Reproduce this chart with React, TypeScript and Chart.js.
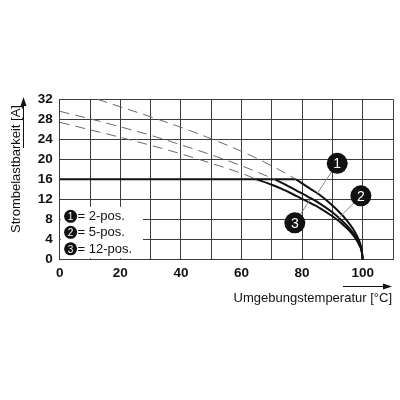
import { useEffect, useRef } from "react";
import { Chart, registerables } from "chart.js";

Chart.register(...registerables);

const FONT = "'Liberation Sans', Arial, Helvetica, sans-serif";
Chart.defaults.font.family = FONT;

// tick labels
const xTickLabels = [0, 20, 40, 60, 80, 100];
const yTickLabels = [0, 4, 8, 12, 16, 20, 24, 28, 32];

// flat 16 A limit (shared by all three variants)
const flatX = [0, 78];
const flatY = [16, 16];

// derating curves (solid part below 16 A)
const curve1X = [78, 80, 83, 86, 89, 92, 95, 97, 98.5, 99.5, 100];
const curve1Y = [16, 15.2, 14.0, 12.8, 11.3, 9.6, 7.6, 5.9, 4.2, 2.4, 0];
const curve2X = [71, 74, 78, 82, 86, 90, 93, 95.5, 97.5, 99, 99.7, 100];
const curve2Y = [16, 15.1, 13.8, 12.5, 11.1, 9.4, 7.8, 6.3, 4.7, 3.0, 1.6, 0];
const curve3X = [65, 70, 74, 78, 82, 86, 90, 93, 95.5, 97.5, 99, 99.7, 100];
const curve3Y = [16, 14.9, 13.9, 12.7, 11.5, 10.2, 8.6, 7.2, 5.8, 4.3, 2.7, 1.5, 0];

// dashed continuation above 16 A
const dash1X = [12.5, 20, 30, 40, 50, 60, 70, 78];
const dash1Y = [32, 30.5, 28.5, 26.4, 24.1, 21.6, 18.7, 16];
const dash2X = [0, 10, 20, 30, 40, 50, 60, 71];
const dash2Y = [29.6, 28.1, 26.5, 24.8, 22.9, 20.9, 18.7, 16];
const dash3X = [0, 10, 20, 30, 40, 50, 60, 65];
const dash3Y = [27.4, 25.9, 24.4, 22.8, 21.1, 19.2, 17.2, 16];

// numbered callouts and where their leaders touch the curves
const calloutLabels = ["1", "2", "3"];
const calloutX = [91.6, 99.4, 77.6];
const calloutY = [19.2, 12.7, 7.3];
const leaderX = [84.8, 92, 82.6];
const leaderY = [13.0, 8.2, 11.9];

// key in lower left
const legendLabels = ["2-pos.", "5-pos.", "12-pos."];
const legendRowY = [8.6, 5.4, 2.1];
const legendBoxX = [0, 27.5];
const legendBoxY = [0, 10.5];

const yTitle = "Strombelastbarkeit [A]";
const xTitle = "Umgebungstemperatur [°C]";

const zip = (xs: number[], ys: number[]) => xs.map((x, i) => ({ x, y: ys[i] }));

const solid = (xs: number[], ys: number[]) => ({
  data: zip(xs, ys),
  borderColor: "#111",
  borderWidth: 2,
  pointRadius: 0,
  cubicInterpolationMode: "monotone" as const,
});

const dashed = (xs: number[], ys: number[]) => ({
  data: zip(xs, ys),
  borderColor: "#6a6a6a",
  borderWidth: 1,
  borderDash: [10, 6],
  pointRadius: 0,
  cubicInterpolationMode: "monotone" as const,
});

const bullet = (ctx: CanvasRenderingContext2D, cx: number, cy: number, r: number, label: string, size: number) => {
  ctx.beginPath();
  ctx.arc(cx, cy, r, 0, Math.PI * 2);
  ctx.fillStyle = "#111";
  ctx.fill();
  ctx.fillStyle = "#fff";
  ctx.font = `${size}px ${FONT}`;
  ctx.textAlign = "center";
  ctx.textBaseline = "middle";
  ctx.fillText(label, cx, cy + 1);
};

const overlay = {
  id: "overlay",
  beforeDatasetsDraw(chart: any) {
    const { ctx, scales } = chart;
    const { x, y } = scales;
    const l = x.getPixelForValue(legendBoxX[0]) + 1;
    const r = x.getPixelForValue(legendBoxX[1]);
    const t = y.getPixelForValue(legendBoxY[1]);
    const b = y.getPixelForValue(legendBoxY[0]) - 1;
    ctx.save();
    ctx.fillStyle = "#fff";
    ctx.fillRect(l, t, r - l, b - t);
    ctx.restore();
  },
  afterDatasetsDraw(chart: any) {
    const { ctx, scales } = chart;
    const { x, y } = scales;
    ctx.save();

    // leaders
    ctx.strokeStyle = "#888";
    ctx.lineWidth = 1;
    calloutLabels.forEach((_, i) => {
      ctx.beginPath();
      ctx.moveTo(x.getPixelForValue(calloutX[i]), y.getPixelForValue(calloutY[i]));
      ctx.lineTo(x.getPixelForValue(leaderX[i]), y.getPixelForValue(leaderY[i]));
      ctx.stroke();
    });
    calloutLabels.forEach((lab, i) => {
      bullet(ctx, x.getPixelForValue(calloutX[i]), y.getPixelForValue(calloutY[i]), 10.5, lab, 14);
    });

    // key
    legendLabels.forEach((lab, i) => {
      const cy = y.getPixelForValue(legendRowY[i]);
      bullet(ctx, x.getPixelForValue(3.6), cy, 6.5, String(i + 1), 10);
      ctx.fillStyle = "#111";
      ctx.font = `13px ${FONT}`;
      ctx.textAlign = "left";
      ctx.textBaseline = "middle";
      ctx.fillText("= " + lab, x.getPixelForValue(5.9), cy + 0.5);
    });

    // axis titles with arrows
    ctx.fillStyle = "#111";
    ctx.strokeStyle = "#111";
    ctx.font = `13px ${FONT}`;
    ctx.save();
    ctx.translate(20, 169);
    ctx.rotate(-Math.PI / 2);
    ctx.textAlign = "center";
    ctx.textBaseline = "alphabetic";
    ctx.fillText(yTitle, 0, 0);
    ctx.restore();

    ctx.lineWidth = 1;
    ctx.beginPath();
    ctx.moveTo(23.5, 148);
    ctx.lineTo(23.5, 104);
    ctx.stroke();
    ctx.beginPath();
    ctx.moveTo(23.5, 97);
    ctx.lineTo(20.5, 106);
    ctx.lineTo(26.5, 106);
    ctx.closePath();
    ctx.fill();

    ctx.textAlign = "right";
    ctx.textBaseline = "alphabetic";
    ctx.fillText(xTitle, 392, 302);
    ctx.beginPath();
    ctx.moveTo(343, 286.5);
    ctx.lineTo(385, 286.5);
    ctx.stroke();
    ctx.beginPath();
    ctx.moveTo(392, 286.5);
    ctx.lineTo(383, 283.5);
    ctx.lineTo(383, 289.5);
    ctx.closePath();
    ctx.fill();

    ctx.restore();
  },
};

export default function App() {
  const canvasRef = useRef<HTMLCanvasElement>(null);

  useEffect(() => {
    if (!canvasRef.current) return;
    const chart = new Chart(canvasRef.current, {
      type: "line",
      data: {
        datasets: [
          dashed(dash1X, dash1Y),
          dashed(dash2X, dash2Y),
          dashed(dash3X, dash3Y),
          solid(flatX, flatY),
          solid(curve1X, curve1Y),
          solid(curve2X, curve2Y),
          solid(curve3X, curve3Y),
        ],
      },
      options: {
        responsive: false,
        animation: false,
        layout: { padding: { top: 99.3, right: 7, left: 0, bottom: 0 } },
        plugins: {
          legend: { display: false },
          tooltip: { enabled: false },
          title: { display: false },
        },
        scales: {
          x: {
            type: "linear",
            min: 0,
            max: 110,
            grid: { color: "#3c3c3c", lineWidth: 1, drawTicks: false },
            border: { display: true, color: "#3c3c3c" },
            ticks: {
              stepSize: 10,
              autoSkip: false,
              maxRotation: 0,
              padding: 6,
              color: "#111",
              font: { size: 13.5, weight: "bold" },
              callback: (v: any) => (xTickLabels.includes(Number(v)) ? String(v) : ""),
            },
            afterFit: (s: any) => {
              s.height = 140.7;
            },
          },
          y: {
            type: "linear",
            min: 0,
            max: 32,
            grid: { color: "#3c3c3c", lineWidth: 1, drawTicks: false },
            border: { display: true, color: "#3c3c3c" },
            ticks: {
              stepSize: 4,
              autoSkip: false,
              padding: 7,
              color: "#111",
              font: { size: 13.5, weight: "bold" },
              callback: (v: any) => (yTickLabels.includes(Number(v)) ? String(v) : ""),
            },
            afterFit: (s: any) => {
              s.width = 59.7;
            },
          },
        },
      },
      plugins: [overlay],
    });
    return () => chart.destroy();
  }, []);

  return (
    <div style={{ position: "absolute", left: 0, top: 0, width: 400, height: 400, background: "#fff" }}>
      <canvas ref={canvasRef} width={400} height={400} />
    </div>
  );
}
